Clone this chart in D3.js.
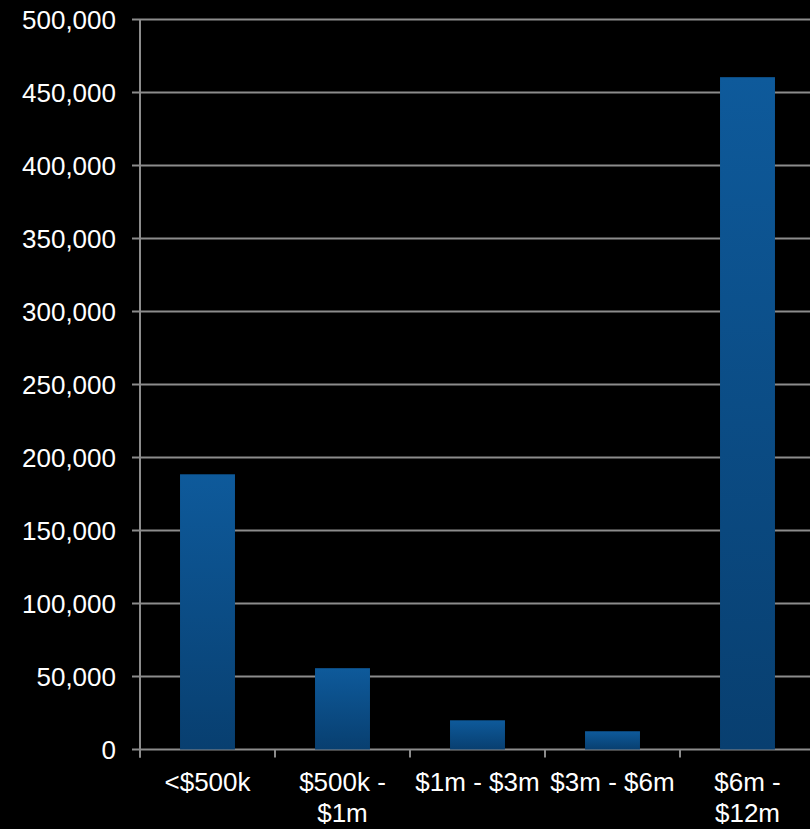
<!DOCTYPE html>
<html><head><meta charset="utf-8">
<script src="https://cdn.jsdelivr.net/npm/d3@7"></script>
<style>
html,body{margin:0;padding:0;background:#000;}
svg{display:block;}
text{font-family:"Liberation Sans",Arial,sans-serif;fill:#fff;}
</style></head>
<body>
<svg id="chart" width="810" height="829"></svg>
<script>
const categories = ["<$500k", "$500k - $1m", "$1m - $3m", "$3m - $6m", "$6m - $12m"];
const values = [188500, 55700, 20000, 12500, 460500];
const yTicks = [0, 50000, 100000, 150000, 200000, 250000, 300000, 350000, 400000, 450000, 500000];

(function(){
const svg = d3.select("#chart");
const mLeft = 140, mRight = 815, mTop = 19.5, mBottom = 749.5;

const x = d3.scaleBand().domain(categories).range([mLeft, mRight]).paddingInner(0.593).paddingOuter(0.2965);
const step = x.step();
const y = d3.scaleLinear().domain([0, 500000]).range([mBottom, mTop]);

const defs = svg.append("defs");
const grad = defs.append("linearGradient").attr("id","barGrad").attr("x1",0).attr("y1",0).attr("x2",0).attr("y2",1);
grad.append("stop").attr("offset","0%").attr("stop-color","#0e5a9b");
grad.append("stop").attr("offset","100%").attr("stop-color","#083f70");

const gridColor = "#8c8c8c";
svg.append("g").selectAll("line").data(yTicks).join("line")
  .attr("x1", mLeft - 8).attr("x2", 810)
  .attr("y1", d => y(d)).attr("y2", d => y(d))
  .attr("stroke", gridColor).attr("stroke-width", 2);

svg.append("g").selectAll("text").data(yTicks).join("text")
  .attr("x", 116).attr("y", d => y(d)).attr("dy", "0.35em")
  .attr("text-anchor", "end").attr("font-size", 26)
  .text(d => d3.format(",")(d));

svg.append("g").selectAll("rect").data(values).join("rect")
  .attr("x", (d,i) => x(categories[i]))
  .attr("width", x.bandwidth())
  .attr("y", d => y(d))
  .attr("height", d => y(0) - y(d))
  .attr("fill", "url(#barGrad)");

svg.append("line").attr("x1", mLeft).attr("x2", mLeft).attr("y1", mTop).attr("y2", mBottom + 8)
  .attr("stroke", gridColor).attr("stroke-width", 2);
const tickXs = categories.map((c,i) => mLeft + i*step).concat([mLeft + categories.length*step]);
svg.append("g").selectAll("line").data(tickXs).join("line")
  .attr("x1", d => d).attr("x2", d => d).attr("y1", mBottom).attr("y2", mBottom + 8)
  .attr("stroke", gridColor).attr("stroke-width", 2);

const lbl = svg.append("g").selectAll("text").data(categories).join("text")
  .attr("x", d => x(d) + x.bandwidth()/2)
  .attr("y", 791)
  .attr("text-anchor", "middle").attr("font-size", 26);
lbl.each(function(d){
  const t = d3.select(this);
  const cx = +t.attr("x");
  const words = d.split(" ");
  let line = [], lines = [];
  const tmp = t.append("tspan");
  words.forEach(w => {
    const trial = line.concat([w]).join(" ");
    tmp.text(trial);
    if (tmp.node().getComputedTextLength() > step && line.length) {
      lines.push(line.join(" "));
      line = [w];
    } else line.push(w);
  });
  lines.push(line.join(" "));
  tmp.remove();
  lines.forEach((l, i) => {
    t.append("tspan").attr("x", cx).attr("dy", i === 0 ? 0 : 31).text(l);
  });
});
})();
</script>
</body></html>
